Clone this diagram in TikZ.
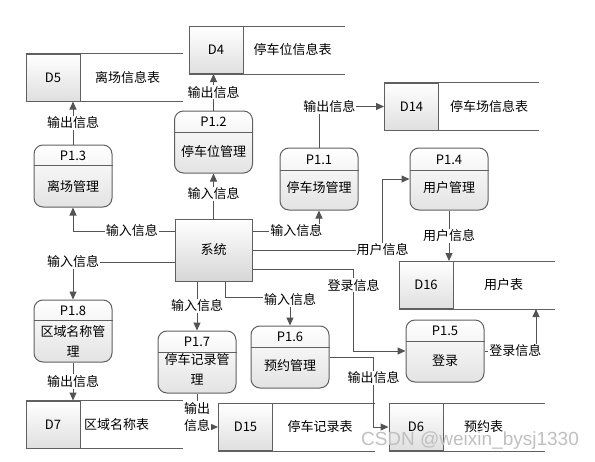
\documentclass[tikz,border=0pt]{standalone}
\usepackage{fontspec}
\setmainfont{Noto Sans CJK SC}
\newfontfamily\wmfont{Liberation Sans}
\usetikzlibrary{arrows.meta,positioning,calc}

\tikzset{
  proc/.style={draw=gray!75!black, line width=1pt, rounded corners=9pt,
    minimum width=78pt, minimum height=62pt, top color=white, bottom color=gray!22},
  sysbox/.style={draw=gray!75!black, line width=1pt, minimum width=77pt,
    minimum height=62pt, top color=white, bottom color=gray!32},
  storeid/.style={draw=gray!75!black, line width=1pt, minimum width=54pt,
    minimum height=47pt, top color=white, bottom color=gray!25,
    font=\fontsize{13}{15}\selectfont},
  storeline/.style={draw=gray!75!black, line width=1pt},
  procline/.style={draw=gray!75!black, line width=0.9pt},
  txt/.style={font=\fontsize{13}{20}\selectfont, align=center, inner sep=1pt},
  flow/.style={draw=gray!65!black, line width=1pt,
    -{Triangle[length=8pt,width=7pt]}},
  lbl/.style={fill=white, inner sep=1pt, font=\fontsize{13}{17}\selectfont, align=center}
}

\begin{document}
\begin{tikzpicture}[x=1pt,y=-1pt]
    \useasboundingbox (0,0) rectangle (595,461);

    % Data stores
    \node (d5) [storeid] at (53,77.5) {D5};
    \draw[storeline] (d5.north west) -- ++(157,0);
    \draw[storeline] (d5.south west) -- ++(157,0);
    \node (d5txt) [txt] at ($(d5.east)+(47,0)$) {离场信息表};

    \node (d4) [storeid] at (216,50) {D4};
    \draw[storeline] (d4.north west) -- ++(156,0);
    \draw[storeline] (d4.south west) -- ++(156,0);
    \node (d4txt) [txt] at ($(d4.east)+(49,0)$) {停车位信息表};

    \node (d14) [storeid] at (411.5,106.5) {D14};
    \draw[storeline] (d14.north west) -- ++(155,0);
    \draw[storeline] (d14.south west) -- ++(155,0);
    \node (d14txt) [txt] at ($(d14.east)+(50,0)$) {停车场信息表};

    \node (d16) [storeid] at (426,285) {D16};
    \draw[storeline] (d16.north west) -- ++(156,0);
    \draw[storeline] (d16.south west) -- ++(156,0);
    \node (d16txt) [txt] at ($(d16.east)+(50,0)$) {用户表};

    \node (d7) [storeid] at (53,424.5) {D7};
    \draw[storeline] (d7.north west) -- ++(157,0);
    \draw[storeline] (d7.south west) -- ++(157,0);
    \node (d7txt) [txt] at ($(d7.east)+(36,0)$) {区域名称表};

    \node (d15) [storeid] at (245.5,427) {D15};
    \draw[storeline] (d15.north west) -- ++(157,0);
    \draw[storeline] (d15.south west) -- ++(157,0);
    \node (d15txt) [txt] at ($(d15.east)+(47,0)$) {停车记录表};

    \node (d6) [storeid] at (416,427) {D6};
    \draw[storeline] (d6.north west) -- ++(156,0);
    \draw[storeline] (d6.south west) -- ++(156,0);
    \node (d6txt) [txt] at ($(d6.east)+(40,0)$) {预约表};

    % System
    \node (sys) [sysbox] at (213.5,250) {};
    \node (systxt) [txt] at (sys.center) {系统};

    % Processes
    \node (p13) [proc] at (73,176) {};
    \draw[procline] ($(p13.north west)+(0,21)$) -- ($(p13.north east)+(0,21)$);
    \node (p13id) [txt] at ($(p13.north)+(0,11)$) {P1.3};
    \node (p13txt) [txt] at ($(p13.center)+(0,11)$) {离场管理};

    \node (p12) [proc] at (213.5,142) {};
    \draw[procline] ($(p12.north west)+(0,22)$) -- ($(p12.north east)+(0,22)$);
    \node (p12id) [txt] at ($(p12.north)+(0,11)$) {P1.2};
    \node (p12txt) [txt] at ($(p12.center)+(0,10)$) {停车位管理};

    \node (p11) [proc] at (319,179) {};
    \draw[procline] ($(p11.north west)+(0,23)$) -- ($(p11.north east)+(0,23)$);
    \node (p11id) [txt] at ($(p11.north)+(0,12)$) {P1.1};
    \node (p11txt) [txt] at ($(p11.center)+(0,9)$) {停车场管理};

    \node (p14) [proc] at (449,179) {};
    \draw[procline] ($(p14.north west)+(0,23)$) -- ($(p14.north east)+(0,23)$);
    \node (p14id) [txt] at ($(p14.north)+(0,12)$) {P1.4};
    \node (p14txt) [txt] at ($(p14.center)+(0,9)$) {用户管理};

    \node (p18) [proc] at (73,331) {};
    \draw[procline] ($(p18.north west)+(0,21)$) -- ($(p18.north east)+(0,21)$);
    \node (p18id) [txt] at ($(p18.north)+(0,11)$) {P1.8};
    \node (p18txt) [txt] at ($(p18.center)+(0,10)$) {区域名称管\\理};

    \node (p17) [proc] at (197,362) {};
    \draw[procline] ($(p17.north west)+(0,22)$) -- ($(p17.north east)+(0,22)$);
    \node (p17id) [txt] at ($(p17.north)+(0,11)$) {P1.7};
    \node (p17txt) [txt] at ($(p17.center)+(0,7)$) {停车记录管\\理};

    \node (p16) [proc] at (290,357) {};
    \draw[procline] ($(p16.north west)+(0,22)$) -- ($(p16.north east)+(0,22)$);
    \node (p16id) [txt] at ($(p16.north)+(0,11)$) {P1.6};
    \node (p16txt) [txt] at ($(p16.center)+(0,9)$) {预约管理};

    \node (p15) [proc] at (445,351) {};
    \draw[procline] ($(p15.north west)+(0,22)$) -- ($(p15.north east)+(0,22)$);
    \node (p15id) [txt] at ($(p15.north)+(0,11)$) {P1.5};
    \node (p15txt) [txt] at ($(p15.center)+(0,10)$) {登录};

    % Flows
    \draw[flow] (sys.north) -- (p12.south) node[lbl, pos=0.55] {输入信息};
    \draw[flow] (p12.north) -- (p12.north |- d4.south) node[lbl, midway] {输出信息};
    \draw[flow] (p13.north) -- (p13.north |- d5.south) node[lbl, midway] {输出信息};
    \draw[flow] ([yshift=19pt]sys.west) -| (p13.south) node[lbl, pos=0.21] {输入信息};
    \draw[flow] ([yshift=-12pt]sys.west) -| (p18.north) node[lbl, pos=0.5] {输入信息};
    \draw[flow] ([yshift=19pt]sys.east) -| (p11.south) node[lbl, pos=0.33] {输入信息};
    \draw[flow] (sys.east) -| ([xshift=-27pt]p14.west) node[lbl, pos=0.5] {用户信息} -- (p14.west);
    \draw[flow] (p14.south) -- (p14.south |- d16.north) node[lbl, midway] {用户信息};
    \draw[flow] ([yshift=-19pt]sys.east) -| ([xshift=-52pt]p15.west) node[lbl, pos=0.6] {登录信息} -- (p15.west);
    \draw[flow] (p15.east) -| ([xshift=110pt]d16.south) node[lbl, pos=0.3] {登录信息};
    \draw[flow] ([xshift=12pt]sys.south) |- ([yshift=28pt]p16.north) node[lbl, yshift=-2pt] {输入信息} -- (p16.north);
    \draw[flow] (p17.north |- sys.south) -- (p17.north) node[lbl, midway] {输入信息};
    \draw[flow] (p18.south) -- (p18.south |- d7.north) node[lbl, midway] {输出信息};
    \draw[flow] (p17.south) |- (d15.west) node[lbl, pos=0.35] {输出\\信息};
    \draw[flow] (p16.east) -| ([xshift=-15pt]d6.west) node[lbl, pos=0.65] {输出信息} -- (d6.west);
    \draw[flow] (p11.north) |- (d14.west) node[lbl, pos=0.58] {输出信息};

    \node (wm) [text=gray!50, font=\wmfont\fontsize{19}{21}\selectfont] at (470,441) {CSDN @weixin\_bysj1330};
\end{tikzpicture}
\end{document}
